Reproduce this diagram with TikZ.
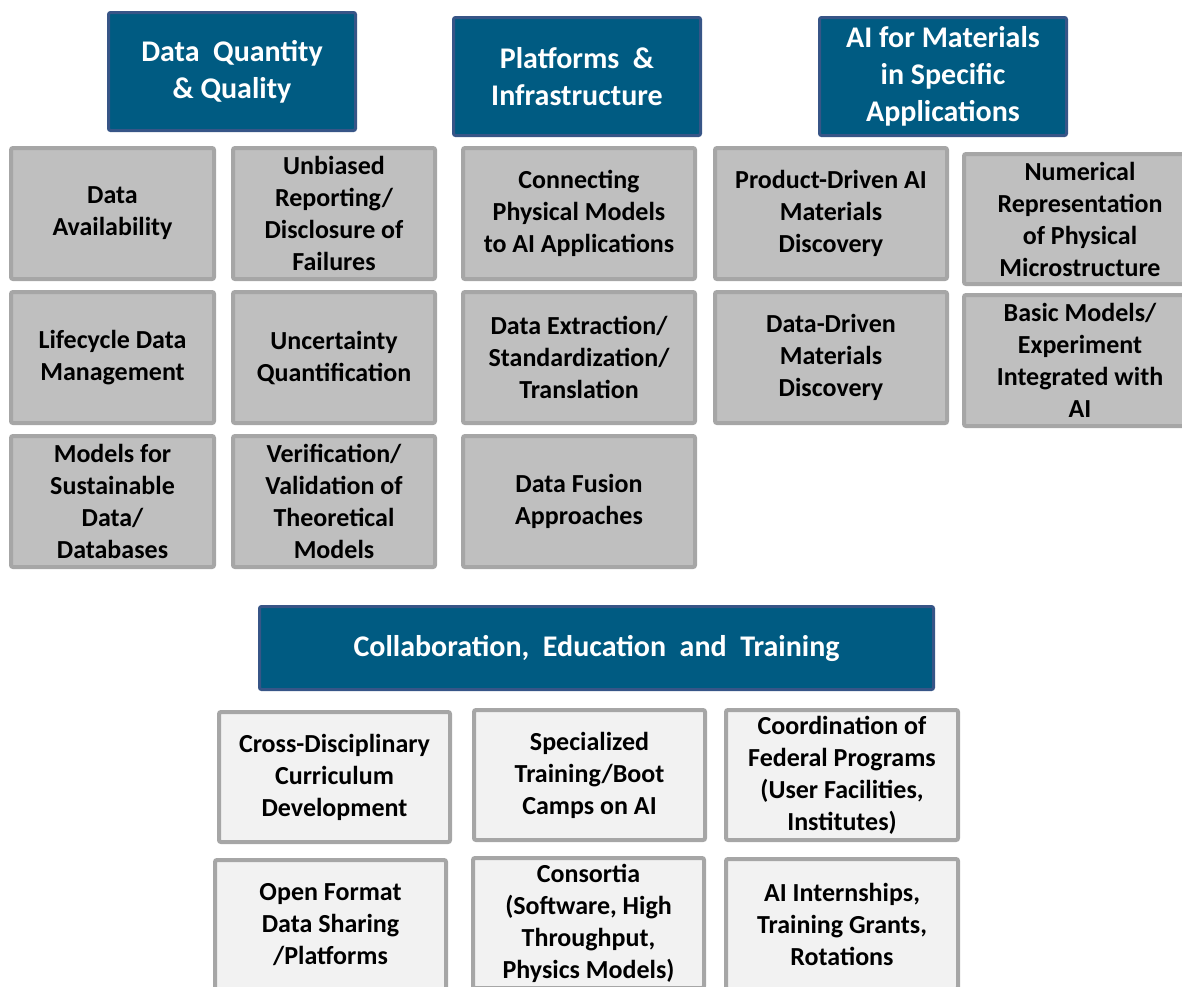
\documentclass[tikz,border=0pt]{standalone}
\usepackage{fontspec}
\setmainfont{Carlito}
\usepackage{xcolor}
\definecolor{hdblue}{RGB}{0,91,130}
\definecolor{hdline}{RGB}{55,85,135}
\definecolor{boxgray}{RGB}{191,191,191}
\definecolor{boxline}{RGB}{166,166,166}
\definecolor{boxlight}{RGB}{242,242,242}
\tikzstyle{head}=[draw=hdline,fill=hdblue,line width=3pt,rounded corners=2pt,text=white,align=center,font=\fontsize{30}{37}\selectfont\bfseries,minimum width=247pt,minimum height=118pt,inner sep=0pt]
\tikzstyle{card}=[draw=boxline,fill=boxgray,line width=4pt,rounded corners=2pt,align=center,font=\fontsize{26}{32}\selectfont\bfseries,minimum width=232pt,minimum height=131pt,inner sep=0pt]
\tikzstyle{lightcard}=[card,fill=boxlight,minimum height=130pt]

\begin{document}
\begin{tikzpicture}[x=1pt,y=-1pt]
 \useasboundingbox (0,0) rectangle (1182,986);
 % column heads
 \node[head] (quant) at (232,71.5) {Data\ \ Quantity\\\&\ Quality};
 \node[head] (platf) at (577,76.5) {Platforms\ \ \&\\Infrastructure};
 \node[head] (apps) at (943,76.5) {AI for Materials\\in Specific\\Applications};
 %
 \node[card,minimum width=203pt] (avail) at (112.5,213.5) {Data\\Availability};
 \node[card,minimum width=203pt] (lifec) at (112.5,357.5) {Lifecycle Data\\Management};
 \node[card,minimum width=203pt] (sustain) at (112.5,501.5) {Models for\\Sustainable\\Data/\\Databases};
 \node[card,minimum width=202pt] (unbias) at (334,213.5) {Unbiased\\Reporting/\\Disclosure of\\Failures};
 \node[card,minimum width=202pt] (uncert) at (334,357.5) {Uncertainty\\Quantification};
 \node[card,minimum width=202pt] (verif) at (334,501.5) {Verification/\\Validation of\\Theoretical\\Models};
 %
 \node[card] (connect) at (579,213.5) {Connecting\\Physical Models\\to AI Applications};
 \node[card] (extract) at (579,357.5) {Data Extraction/\\Standardization/\\Translation};
 \node[card] (fusion) at (579,501.5) {Data Fusion\\Approaches};
 %
 \node[card] (product) at (831,213.5) {Product-Driven AI\\Materials\\Discovery};
 \node[card] (datadrv) at (831,357.5) {Data-Driven\\Materials\\Discovery};
 \node[card,minimum height=130pt] (numrep) at (1080,219) {Numerical\\Representation\\of Physical\\Microstructure};
 \node[card] (basic) at (1080,360.5) {Basic Models/\\Experiment\\Integrated with\\AI};
 %
 \node[head,minimum width=674pt,minimum height=83pt] (collab) at (596.5,648) {Collaboration,\ \ Education\ \ and\ \ Training};
 %
 \node[lightcard,minimum width=231pt] (cross) at (334.5,777) {Cross-Disciplinary\\Curriculum\\Development};
 \node[lightcard,minimum width=231pt] (openfmt) at (330.5,925) {Open Format\\Data Sharing\\/Platforms};
 \node[lightcard,minimum width=231pt] (special) at (589.5,775) {Specialized\\Training/Boot\\Camps on AI};
 \node[lightcard,minimum width=231pt] (consort) at (588.5,923) {Consortia\\(Software, High\\Throughput,\\Physics Models)};
 \node[lightcard] (federal) at (842,775) {Coordination of\\Federal Programs\\(User Facilities,\\Institutes)};
 \node[lightcard] (intern) at (842,924) {AI Internships,\\Training Grants,\\Rotations};
\end{tikzpicture}
\end{document}
